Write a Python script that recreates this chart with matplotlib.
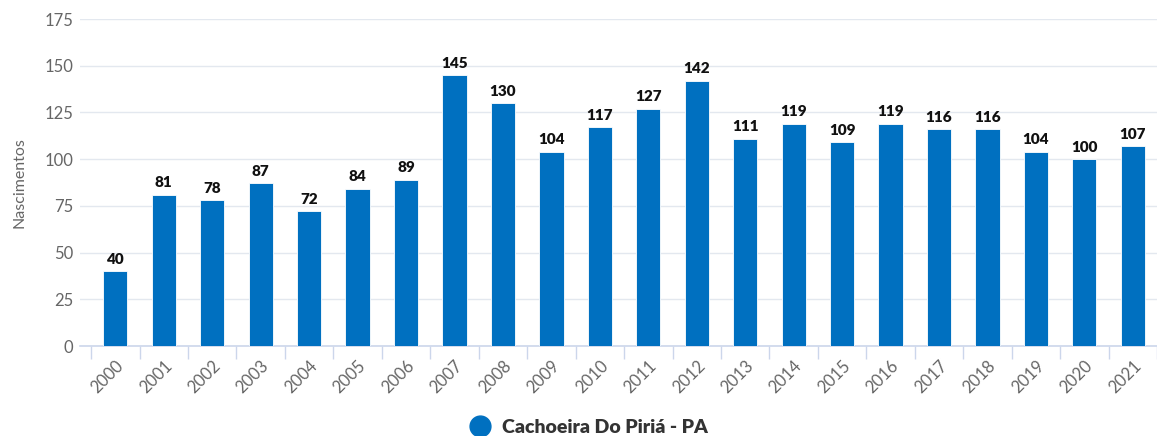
import matplotlib.pyplot as plt
from matplotlib.lines import Line2D

anos = [str(a) for a in range(2000, 2022)]
nascimentos = [40, 81, 78, 87, 72, 84, 89, 145, 130, 104, 117, 127, 142,
               111, 119, 109, 119, 116, 116, 104, 100, 107]
yticks = [0, 25, 50, 75, 100, 125, 150, 175]
serie = "Cachoeira Do Piriá - PA"

azul = "#0070c0"
cinza = "#666666"
grade = "#e3e8ef"

plt.rcParams["font.family"] = ["Lato", "DejaVu Sans"]

fig = plt.figure(figsize=(11.57, 4.36), dpi=100)
ax = fig.add_axes([80 / 1157, 90 / 436, 1077 / 1157, 327 / 436])

x = range(len(anos))
ax.bar(x, nascimentos, width=0.5, color=azul, edgecolor="white",
       linewidth=0.6, zorder=3)

# rótulos de dados acima das barras
for xi, v in zip(x, nascimentos):
    ax.annotate(str(v), xy=(xi, v), xytext=(0, 4), textcoords="offset points",
                ha="center", va="bottom", fontsize=11, fontweight="heavy",
                color="#111111")

ax.set_ylim(0, 175)
ax.set_xlim(-0.73, len(anos) - 0.5)
ax.set_yticks(yticks)
ax.set_yticklabels([str(t) for t in yticks], fontsize=12, color=cinza)
ax.tick_params(axis="y", length=0, pad=5)
ax.grid(axis="y", color=grade, linewidth=1, zorder=0)

ax.set_xticks(list(x))
ax.set_xticklabels(anos, rotation=45, ha="right", rotation_mode="anchor",
                   fontsize=12, color=cinza)
ax.tick_params(axis="x", length=0, pad=8)
# marcas entre categorias
ax.set_xticks([i - 0.5 for i in range(len(anos) + 1)], minor=True)
ax.tick_params(axis="x", which="minor", length=9, color="#ccd6eb", width=1)

for s in ["top", "right", "left"]:
    ax.spines[s].set_visible(False)
ax.spines["bottom"].set_color("#ccd6eb")
ax.spines["bottom"].set_linewidth(1.2)

ax.set_ylabel("Nascimentos", fontsize=11.5, color=cinza)
ax.yaxis.set_label_coords(-0.05, 0.5)

handle = Line2D([], [], marker="o", linestyle="", markersize=15, color=azul)
fig.legend([handle], [serie], loc="center", bbox_to_anchor=(0.505, 0.02),
           frameon=False, handletextpad=0.1,
           prop={"size": 14, "weight": "heavy"}, labelcolor="#333333")

fig.savefig("out.png", dpi=100)
